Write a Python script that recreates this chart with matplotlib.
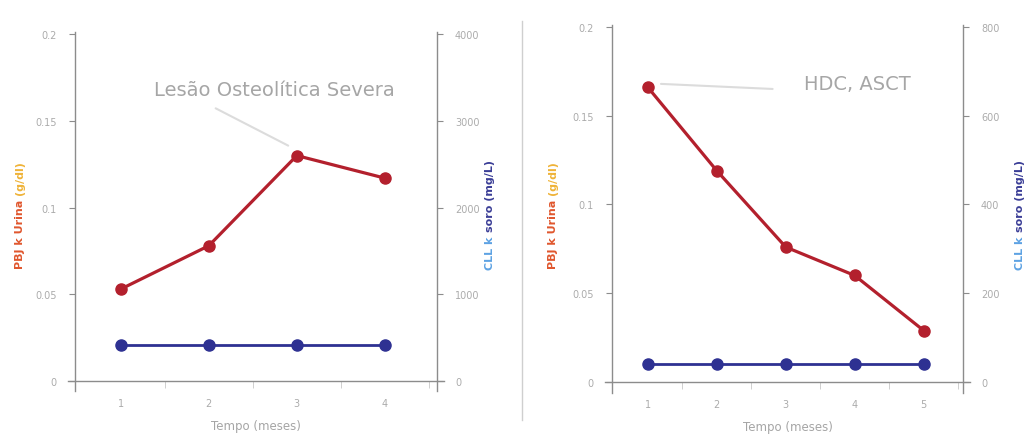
import matplotlib.pyplot as plt
from matplotlib.lines import Line2D

# Patient 1: severe osteolytic lesion
months_a = [1, 2, 3, 4]
pbj_a = [0.053, 0.078, 0.130, 0.117]      # urinary Bence Jones kappa (g/dl)
cll_a = [410, 410, 410, 410]              # serum free kappa (mg/L)

# Patient 2: HDC, ASCT
months_b = [1, 2, 3, 4, 5]
pbj_b = [0.166, 0.119, 0.076, 0.060, 0.029]
cll_b = [40, 40, 40, 40, 40]

left_ticks = [0, 0.05, 0.1, 0.15, 0.2]
left_ticklabels = ["0", "0.05", "0.1", "0.15", "0.2"]
right_ticks_a = [0, 1000, 2000, 3000, 4000]
right_ticks_b = [0, 200, 400, 600, 800]

RED = "#b3202d"
BLUE = "#2e3192"
AXIS = "#8c8c8c"
TICKTXT = "#ababab"

fig = plt.figure(figsize=(10.31, 4.39), dpi=100)


def panel(rect, months, pbj, cll, xlim, rticks):
    ax = fig.add_axes(rect)
    ax2 = ax.twinx()
    ax.set_xlim(*xlim)
    ax.set_ylim(0, 0.2)
    ax2.set_ylim(rticks[0], rticks[-1])
    for a in (ax, ax2):
        for s in a.spines.values():
            s.set_visible(False)
    # axis lines that overshoot slightly past the corners
    for xs, ys in (([-0.02, 1.02], [0, 0]), ([0, 0], [-0.03, 1.005]), ([1, 1], [-0.03, 1.005])):
        ax.add_line(Line2D(xs, ys, transform=ax.transAxes, color=AXIS,
                           lw=1.0, clip_on=False))
    ax.set_yticks(left_ticks)
    ax.set_yticklabels(left_ticklabels)
    ax2.set_yticks(rticks)
    ax2.set_yticklabels([str(t) for t in rticks])
    ax.set_xticks(months)
    ax.set_xticks([m + 0.5 for m in months], minor=True)
    ax.tick_params(axis="x", which="major", length=0, pad=12,
                   labelsize=7, labelcolor=TICKTXT)
    ax.tick_params(axis="x", which="minor", length=5, color="#c8c8c8", pad=2)
    ax.tick_params(axis="y", length=4, color=AXIS, labelsize=7,
                   labelcolor=TICKTXT, pad=9)
    ax2.tick_params(axis="y", length=4, color=AXIS, labelsize=7,
                    labelcolor=TICKTXT, pad=9)
    ax.plot(months, pbj, color=RED, lw=2.3, marker="o", ms=8, zorder=5,
            clip_on=False)
    ax2.plot(months, cll, color=BLUE, lw=2.0, marker="o", ms=8, zorder=5,
             clip_on=False)
    ax.set_xlabel("Tempo (meses)", color="#a5a5a5", fontsize=8.5, labelpad=8)
    return ax, ax2


axA, axA2 = panel([0.0727, 0.1298, 0.351, 0.790], months_a, pbj_a, cll_a,
                  (0.48, 4.59), right_ticks_a)
axB, axB2 = panel([0.5936, 0.1276, 0.3404, 0.8087], months_b, pbj_b, cll_b,
                  (0.48, 5.57), right_ticks_b)

renderer = fig.canvas.get_renderer()


def two_tone(x, yc, parts):
    """Vertical label made of differently coloured pieces, centred at yc."""
    texts = [fig.text(x, 0, s, rotation=90, color=c, fontsize=8,
                      fontweight="bold", ha="center", va="bottom")
             for s, c in parts]
    heights = [t.get_window_extent(renderer).height / fig.bbox.height
               for t in texts]
    y = yc - sum(heights) / 2
    for t, h in zip(texts, heights):
        t.set_y(y)
        y += h


def ylab_left(x):
    two_tone(x, 0.51, [("PBJ k Urina ", "#e0572e"), ("(g/dl)", "#efb338")])


def ylab_right(x):
    two_tone(x, 0.51, [("CLL k ", "#5da2e3"), ("soro (mg/L)", "#3a3d96")])


ylab_left(20 / 1031)
ylab_right(490 / 1031)
ylab_left(553 / 1031)
ylab_right(1020 / 1031)

# event annotations
axA.text(0.55, 0.84, "Lesão Osteolítica Severa", transform=axA.transAxes,
         ha="center", va="center", fontsize=14, color="#a6a6a6")
axA.annotate("", xy=(2.93, 0.135), xytext=(2.05, 0.158),
             arrowprops=dict(arrowstyle="-", color="#dcdcdc", lw=1.5))
axB.text(0.70, 0.84, "HDC, ASCT", transform=axB.transAxes,
         ha="center", va="center", fontsize=14, color="#a6a6a6")
axB.annotate("", xy=(1.15, 0.168), xytext=(2.85, 0.165),
             arrowprops=dict(arrowstyle="-", color="#dcdcdc", lw=1.5))

# divider between the two panels
fig.add_artist(Line2D([522 / 1031, 522 / 1031], [0.04, 0.95],
                      transform=fig.transFigure, color="#cfcfcf", lw=1.0))

fig.savefig("out.png", dpi=100, facecolor="white")
